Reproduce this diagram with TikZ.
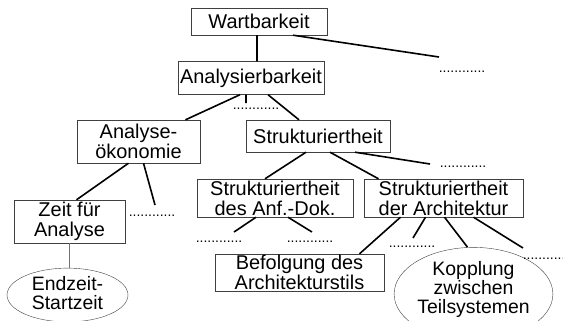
\documentclass[tikz,border=0pt]{standalone}
\usepackage{fontspec}
\setmainfont{Liberation Sans}
\usetikzlibrary{shapes.geometric}

\begin{document}
\begin{tikzpicture}[x=1bp, y=-1bp,
    box/.style={draw=black!75, rectangle, inner sep=0pt, align=center, font=\fontsize{20}{20}\selectfont},
    oval/.style={draw=black!75, ellipse, inner sep=0pt, align=center, font=\fontsize{19.5}{19.5}\selectfont},
    more/.style={inner sep=0pt, font=\fontsize{14}{14}\selectfont}]
          \useasboundingbox (0,0) rectangle (563,320);
          \node[box, minimum width=136bp, minimum height=27bp](0)  at (259,21.5)  {Wartbarkeit};
          \node[box, minimum width=146bp, minimum height=33bp](1)  at (251,78)    {Analysierbarkeit};
          \node[box, minimum width=123bp, minimum height=43bp](2)  at (138.5,141.5) {Analyse-\\ökonomie};
          \node[box, minimum width=144bp, minimum height=32bp](3)  at (318,136)   {Strukturiertheit};
          \node[box, minimum width=111bp, minimum height=43bp](4)  at (69.5,221.5) {Zeit für\\Analyse};
          \node[box, minimum width=156bp, minimum height=38bp](5)  at (275,198)   {Strukturiertheit\\des Anf.-Dok.};
          \node[box, minimum width=159bp, minimum height=38bp](6)  at (443.5,198) {Strukturiertheit\\der Architektur};
          \node[box, minimum width=169bp, minimum height=37bp](7)  at (299.5,272.5) {Befolgung des\\Architekturstils};
          \node[oval, minimum width=121bp, minimum height=50bp, text depth=5bp](8) at (67.5,295) {Endzeit-\\[-0.5bp]Startzeit};
          \node[oval, minimum width=132bp, minimum height=92bp, text depth=13bp](9) at (473.5,294) {Kopplung\\zwischen\\Teilsystemen};
          \node[more](10) at (462,72)  {............};
          \node[more](11) at (256,109) {............};
          \node[more](12) at (463,167) {............};
          \node[more](13) at (152,216) {............};
          \node[more](14) at (219,242) {............};
          \node[more](15) at (310,242) {............};
          \node[more](16) at (412,247) {............};
          \node[more](17) at (546,259) {............};
          \coordinate (18) at (439,57);
          \coordinate (19) at (246,103);
          \coordinate (20) at (430,164);
          \coordinate (21) at (155,205);
          \coordinate (22) at (234,232);
          \coordinate (23) at (312,232);
          \coordinate (24) at (413,238);
          \coordinate (25) at (523,248);
          \path[line width=1.6bp]
            ([xshift=-2bp]0.south) edge node {} ([xshift=6bp]1.north)
            ([xshift=34bp]0.south) edge node {} (18)
            ([xshift=-11bp]1.south) edge node {} ([xshift=47bp]2.north)
            ([xshift=-5bp]1.south) edge node {} (19)
            ([xshift=17bp]1.south) edge node {} ([xshift=-19bp]3.north)
            ([xshift=-12bp]3.south) edge node {} ([xshift=-10bp]5.north)
            ([xshift=12bp]3.south) edge node {} ([xshift=-65bp]6.north)
            ([xshift=37bp]3.south) edge node {} (20)
            ([xshift=-10bp]2.south) edge node {} ([xshift=7bp]4.north)
            ([xshift=5bp]2.south) edge node {} (21)
            ([xshift=-19bp]5.south) edge node {} (22)
            ([xshift=13bp]5.south) edge node {} (23)
            ([xshift=-43bp]6.south) edge node {} ([xshift=60bp]7.north)
            ([xshift=-18bp]6.south) edge node {} (24)
            ([xshift=1bp]6.south) edge node {} ([xshift=-6bp]9.north)
            ([xshift=30bp]6.south) edge node {} (25)
            ;
          \path[black!55, line width=0.8bp]
            (4.south) edge node {} (4.south |- 8.north)
            ;
        \end{tikzpicture}
\end{document}
